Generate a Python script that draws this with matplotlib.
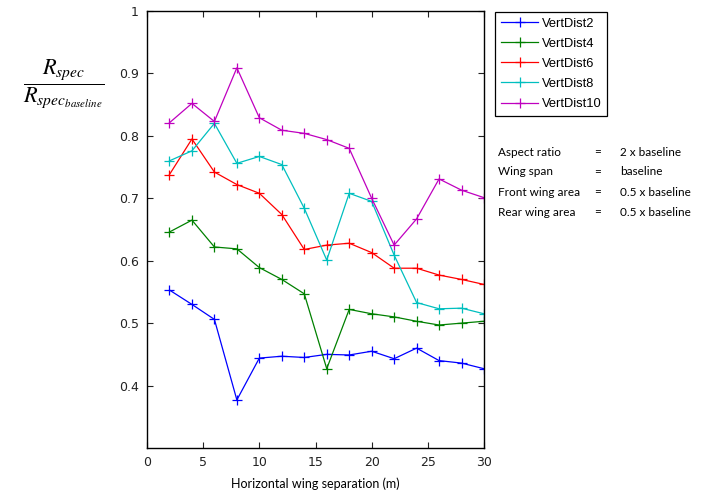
import numpy as np
import matplotlib.pyplot as plt

plt.rcParams['mathtext.fontset'] = 'stix'

# Horizontal wing separation (m)
sep = [2, 4, 6, 8, 10, 12, 14, 16, 18, 20, 22, 24, 26, 28, 30]

# Rspec / Rspec_baseline for each vertical distance
vert2  = [0.553, 0.530, 0.506, 0.377, 0.444, 0.447, 0.445, 0.450, 0.449, 0.455, 0.443, 0.460, 0.440, 0.436, 0.427]
vert4  = [0.646, 0.665, 0.622, 0.619, 0.589, 0.570, 0.547, 0.427, 0.522, 0.515, 0.510, 0.503, 0.497, 0.500, 0.503]
vert6  = [0.738, 0.795, 0.742, 0.722, 0.708, 0.674, 0.618, 0.625, 0.628, 0.613, 0.588, 0.588, 0.577, 0.570, 0.562]
vert8  = [0.760, 0.776, 0.820, 0.756, 0.767, 0.754, 0.684, 0.601, 0.708, 0.695, 0.609, 0.533, 0.523, 0.524, 0.515]
vert10 = [0.821, 0.852, 0.823, 0.909, 0.829, 0.809, 0.804, 0.794, 0.780, 0.700, 0.625, 0.667, 0.731, 0.713, 0.701]

names  = ["VertDist2", "VertDist4", "VertDist6", "VertDist8", "VertDist10"]
series = [vert2, vert4, vert6, vert8, vert10]
colors = ["#0000ff", "#008000", "#ff0000", "#00bfbf", "#bf00bf"]

params = ["Aspect ratio", "Wing span", "Front wing area", "Rear wing area"]
values = ["2 x baseline", "baseline", "0.5 x baseline", "0.5 x baseline"]

xticks = [0, 5, 10, 15, 20, 25, 30]
yticks = [0.4, 0.5, 0.6, 0.7, 0.8, 0.9, 1]

fig = plt.figure(figsize=(7.02, 4.93), dpi=100)
ax = fig.add_axes([147/702, 1-448/493, 337/702, 437/493])

for name, vals, col in zip(names, series, colors):
    ax.plot(sep, vals, color=col, lw=0.9, marker='+', ms=7.5, mew=0.9, label=name)

ax.set_xlim(0, 30)
ax.set_ylim(0.3, 1.0)
ax.set_xticks(xticks)
ax.set_xticklabels([str(t) for t in xticks])
ax.set_yticks(yticks)
ax.set_yticklabels(["0.4", "0.5", "0.6", "0.7", "0.8", "0.9", "1"])
ax.tick_params(direction='in', top=True, right=True, length=4, labelsize=9, colors='#222222', pad=6)
for s in ax.spines.values():
    s.set_linewidth(1.0)
ax.set_xlabel("Horizontal wing separation (m)", fontsize=9, family='Lato', labelpad=6)

leg = ax.legend(loc='upper left', bbox_to_anchor=(495/702, 1-12/493), bbox_transform=fig.transFigure,
                borderaxespad=0, prop={'family': 'Liberation Sans', 'size': 9.3},
                fancybox=False, edgecolor='black', framealpha=1,
                handlelength=2.9, borderpad=0.45, labelspacing=0.62, handletextpad=0.25)
leg.get_frame().set_linewidth(0.9)

for i, (p, v) in enumerate(zip(params, values)):
    yy = 1 - (152 + 20*i)/493
    fig.text(498/702, yy, p, fontsize=8.5, family='Lato', va='center')
    fig.text(594/702, yy, "=", fontsize=8.5, family='Lato', va='center')
    fig.text(620/702, yy, v, fontsize=8.5, family='Lato', va='center')

fig.text(64/702, 1-84/493, r"$\dfrac{R_{spec}}{R_{spec_{baseline}}}$", fontsize=16,
         ha='center', va='center')

plt.savefig("out.png", dpi=100)
